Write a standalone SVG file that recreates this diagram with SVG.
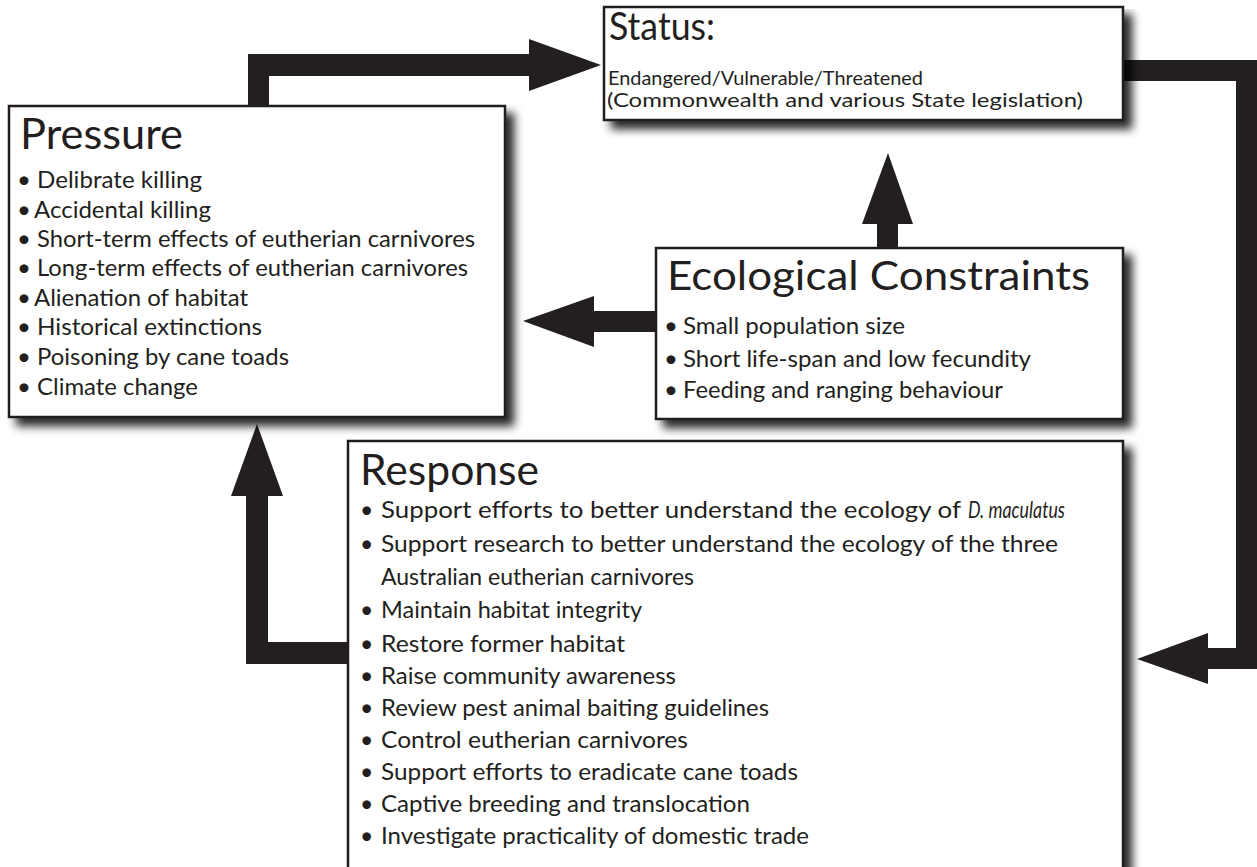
<svg xmlns="http://www.w3.org/2000/svg" width="1257" height="867" viewBox="0 0 1257 867">
<defs>
<filter id="sh" x="-5%" y="-5%" width="115%" height="130%">
<feGaussianBlur in="SourceAlpha" stdDeviation="5"/>
<feOffset dx="8" dy="8"/>
<feComponentTransfer><feFuncA type="linear" slope="0.85"/></feComponentTransfer>
<feMerge><feMergeNode/><feMergeNode in="SourceGraphic"/></feMerge>
</filter>
<style>
.box{fill:#fff;stroke:#231f20;stroke-width:2.5;filter:url(#sh)}
.arr{fill:#231f20}
text{font-family:Lato,"Open Sans",sans-serif;fill:#231f20}
.h{font-size:43px}
.p{font-size:24px}
.e{font-size:24px}
.r{font-size:23px}
.s{font-size:20px}
.i{font-style:italic}
</style>
</defs>
<rect width="1257" height="867" fill="#fff"/>
<g id="connectors">
<polygon class="arr" points="248,106 248,54 529,54 529,39 601,65 529,91 529,76 269,76 269,106"/>
<polygon class="arr" points="1123,60 1257,60 1257,669 1208,669 1208,684 1137,659 1208,633 1208,648 1236,648 1236,81 1123,81"/>
<polygon class="arr" points="877,248 877,224 862,224 888,153 913,224 898,224 898,248"/>
<polygon class="arr" points="656,311 594,311 594,296 523,321 594,347 594,332 656,332"/>
<polygon class="arr" points="348,642 268,642 268,496 283,496 257,424 231,496 246,496 246,664 348,664"/>
</g>
<g id="status">
<rect class="box" x="604" y="7" width="519" height="113"/>
<text x="609" y="40" style="font-size:39px" textLength="106" lengthAdjust="spacingAndGlyphs">Status:</text>
<text class="s" x="608" y="85" textLength="315" lengthAdjust="spacingAndGlyphs">Endangered/Vulnerable/Threatened</text>
<text class="s" x="607" y="107" textLength="476" lengthAdjust="spacingAndGlyphs">(Commonwealth and various State legislation)</text>
</g>
<g id="pressure">
<rect class="box" x="9" y="106" width="496" height="311"/>
<text class="h" x="20" y="149" textLength="163" lengthAdjust="spacingAndGlyphs">Pressure</text>
<text class="p" x="17" y="188">•</text><text class="p" x="37" y="188" textLength="165" lengthAdjust="spacingAndGlyphs">Delibrate killing</text>
<text class="p" x="17" y="218">•</text><text class="p" x="34" y="218" textLength="177" lengthAdjust="spacingAndGlyphs">Accidental killing</text>
<text class="p" x="17" y="247">•</text><text class="p" x="37" y="247" textLength="438" lengthAdjust="spacingAndGlyphs">Short-term effects of eutherian carnivores</text>
<text class="p" x="17" y="276">•</text><text class="p" x="37" y="276" textLength="431" lengthAdjust="spacingAndGlyphs">Long-term effects of eutherian carnivores</text>
<text class="p" x="17" y="306">•</text><text class="p" x="34" y="306" textLength="214" lengthAdjust="spacingAndGlyphs">Alienation of habitat</text>
<text class="p" x="17" y="335">•</text><text class="p" x="37" y="335" textLength="225" lengthAdjust="spacingAndGlyphs">Historical extinctions</text>
<text class="p" x="17" y="365">•</text><text class="p" x="37" y="365" textLength="252" lengthAdjust="spacingAndGlyphs">Poisoning by cane toads</text>
<text class="p" x="17" y="395">•</text><text class="p" x="37" y="395" textLength="161" lengthAdjust="spacingAndGlyphs">Climate change</text>
</g>
<g id="ecological-constraints">
<rect class="box" x="656" y="248" width="467" height="171"/>
<text x="667" y="290" style="font-size:40px" textLength="423" lengthAdjust="spacingAndGlyphs">Ecological Constraints</text>
<text class="e" x="664" y="334">•</text><text class="e" x="683" y="334" textLength="222" lengthAdjust="spacingAndGlyphs">Small population size</text>
<text class="e" x="664" y="367">•</text><text class="e" x="683" y="367" textLength="348" lengthAdjust="spacingAndGlyphs">Short life-span and low fecundity</text>
<text class="e" x="664" y="398">•</text><text class="e" x="683" y="398" textLength="320" lengthAdjust="spacingAndGlyphs">Feeding and ranging behaviour</text>
</g>
<g id="response">
<rect class="box" x="348" y="441" width="775" height="440"/>
<text class="h" x="360" y="485" textLength="179" lengthAdjust="spacingAndGlyphs">Response</text>
<text class="r" x="360" y="518">•</text><text class="r" x="381" y="518" textLength="580" lengthAdjust="spacingAndGlyphs">Support efforts to better understand the ecology of</text><text class="r i" x="968" y="518" textLength="97" lengthAdjust="spacingAndGlyphs">D. maculatus</text>
<text class="r" x="360" y="552">•</text><text class="r" x="381" y="552" textLength="677" lengthAdjust="spacingAndGlyphs">Support research to better understand the ecology of the three</text>
<text class="r" x="381" y="585" textLength="313" lengthAdjust="spacingAndGlyphs">Australian eutherian carnivores</text>
<text class="r" x="360" y="618">•</text><text class="r" x="381" y="618" textLength="261" lengthAdjust="spacingAndGlyphs">Maintain habitat integrity</text>
<text class="r" x="360" y="652">•</text><text class="r" x="381" y="652" textLength="244" lengthAdjust="spacingAndGlyphs">Restore former habitat</text>
<text class="r" x="360" y="684">•</text><text class="r" x="381" y="684" textLength="295" lengthAdjust="spacingAndGlyphs">Raise community awareness</text>
<text class="r" x="360" y="716">•</text><text class="r" x="381" y="716" textLength="388" lengthAdjust="spacingAndGlyphs">Review pest animal baiting guidelines</text>
<text class="r" x="360" y="748">•</text><text class="r" x="381" y="748" textLength="307" lengthAdjust="spacingAndGlyphs">Control eutherian carnivores</text>
<text class="r" x="360" y="780">•</text><text class="r" x="381" y="780" textLength="417" lengthAdjust="spacingAndGlyphs">Support efforts to eradicate cane toads</text>
<text class="r" x="360" y="812">•</text><text class="r" x="381" y="812" textLength="369" lengthAdjust="spacingAndGlyphs">Captive breeding and translocation</text>
<text class="r" x="360" y="844">•</text><text class="r" x="381" y="844" textLength="428" lengthAdjust="spacingAndGlyphs">Investigate practicality of domestic trade</text>
</g>
</svg>
